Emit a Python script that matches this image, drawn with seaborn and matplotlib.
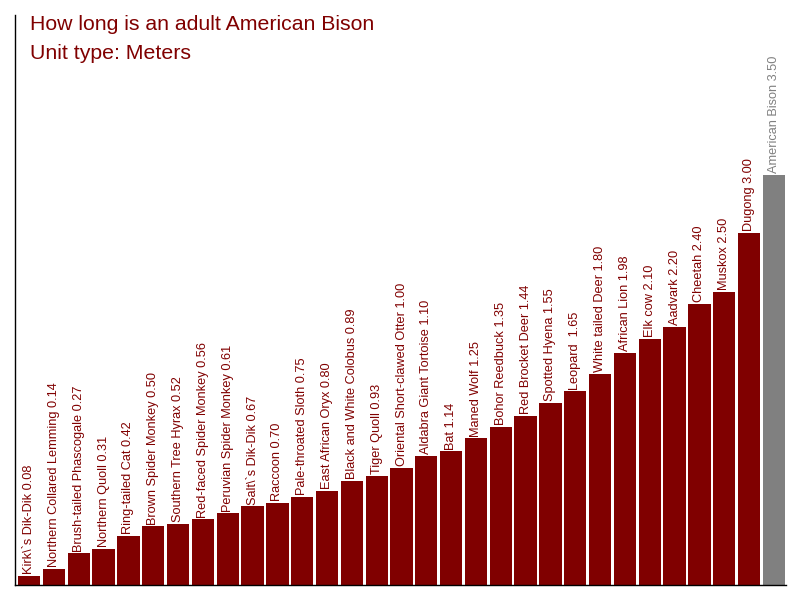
import matplotlib
matplotlib.use("Agg")
import matplotlib.pyplot as plt
import seaborn as sns
import pandas as pd

names = [
    "Kirk\\`s Dik-Dik", "Northern Collared Lemming", "Brush-tailed Phascogale",
    "Northern Quoll", "Ring-tailed Cat", "Brown Spider Monkey",
    "Southern Tree Hyrax", "Red-faced Spider Monkey", "Peruvian Spider Monkey",
    "Salt\\`s Dik-Dik", "Raccoon", "Pale-throated Sloth", "East African Oryx",
    "Black and White Colobus", "Tiger Quoll", "Oriental Short-clawed Otter",
    "Aldabra Giant Tortoise", "Bat", "Maned Wolf", "Bohor Reedbuck",
    "Red Brocket Deer", "Spotted Hyena", "Leopard ", "White tailed Deer",
    "African Lion", "Elk cow", "Aadvark", "Cheetah", "Muskox", "Dugong",
    "American Bison",
]
lengths = [
    0.08, 0.14, 0.27, 0.31, 0.42, 0.50, 0.52, 0.56, 0.61, 0.67, 0.70, 0.75,
    0.80, 0.89, 0.93, 1.00, 1.10, 1.14, 1.25, 1.35, 1.44, 1.55, 1.65, 1.80,
    1.98, 2.10, 2.20, 2.40, 2.50, 3.00, 3.50,
]
highlight = "American Bison"
title_lines = ["How long is an adult American Bison", "Unit type: Meters"]

RED = "#800000"
GREY = "#808080"

sns.set_style("white")
plt.rcParams["font.family"] = ["Liberation Sans", "DejaVu Sans"]

df = pd.DataFrame({"name": names, "length": lengths})
colors = [GREY if n == highlight else RED for n in names]

fig = plt.figure(figsize=(8, 6), dpi=100)
ax = fig.add_axes([15 / 800, 15 / 600, 771 / 800, 570 / 600])

sns.barplot(data=df, x="name", y="length", hue="name", palette=colors,
            width=0.9, legend=False, ax=ax, saturation=1, linewidth=0)

for i, (n, v) in enumerate(zip(names, lengths)):
    c = GREY if n == highlight else RED
    ax.text(i, v + 0.015, f"{n} {v:.2f}", rotation=90,
            ha="center", va="bottom", fontsize=9.2, color=c)

ax.set_xlim(-0.571, 30.49)
ax.set_ylim(0, 4.86)
ax.set_xlabel("")
ax.set_ylabel("")
ax.set_xticks([])
ax.set_yticks([])
for s in ["top", "right"]:
    ax.spines[s].set_visible(False)
for s in ["left", "bottom"]:
    ax.spines[s].set_color("black")
    ax.spines[s].set_linewidth(1)

fig.text(30 / 800, 1 - 15 / 600, title_lines[0], ha="left", va="top",
         fontsize=15.3, color=RED)
fig.text(30 / 800, 1 - 44 / 600, title_lines[1], ha="left", va="top",
         fontsize=15.3, color=RED)

fig.savefig("out.png", dpi=100, facecolor="white")
